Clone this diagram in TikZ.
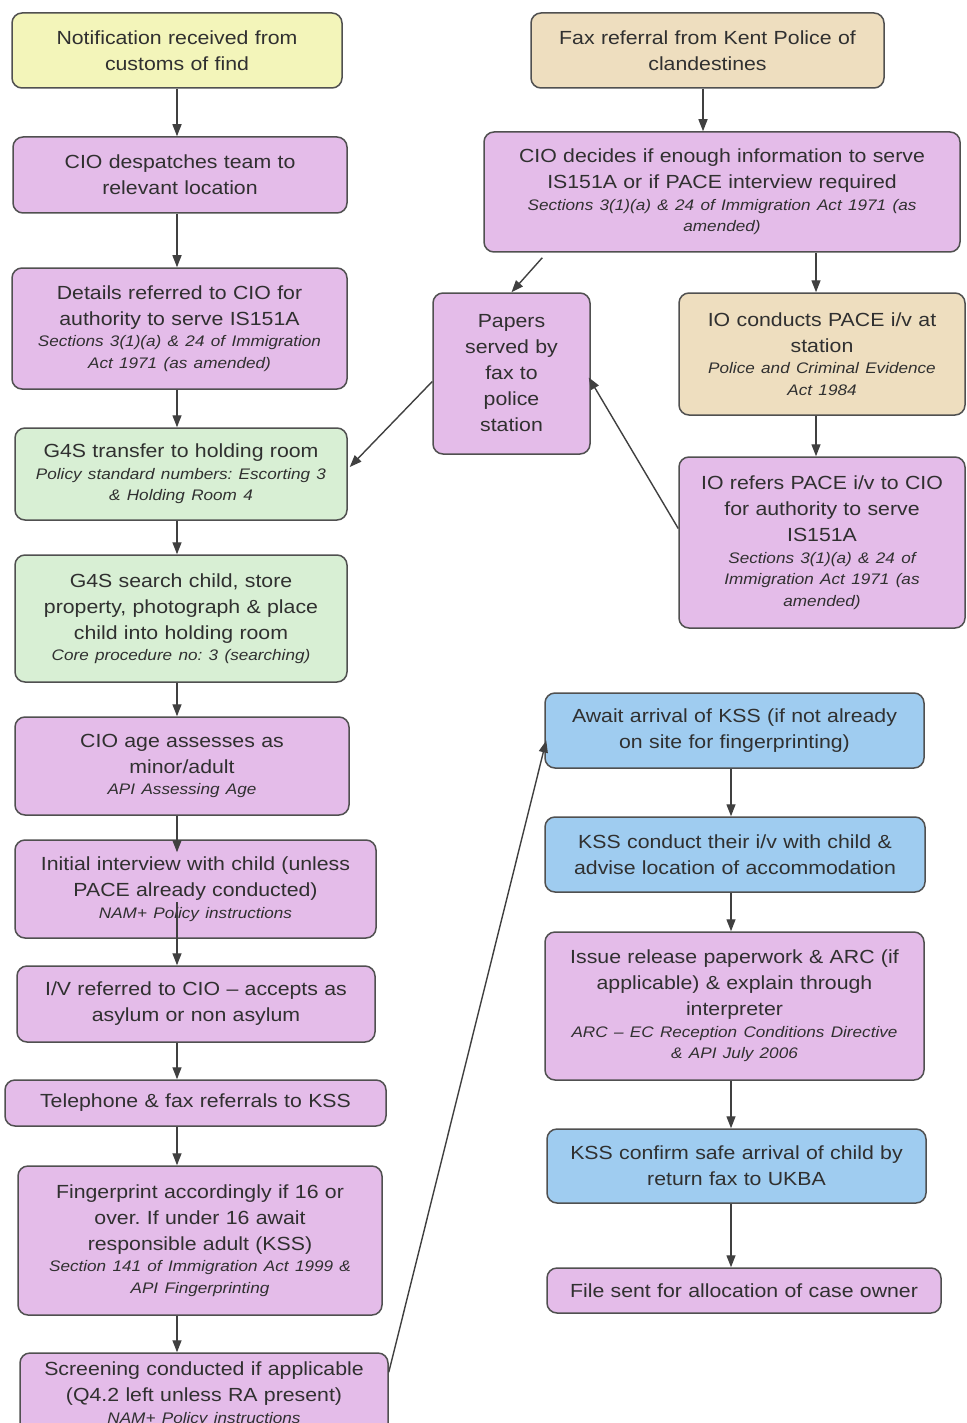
\documentclass[tikz,border=0pt]{standalone}
\usepackage{fontspec}
\setmainfont{Liberation Sans}[FakeStretch=1.12]
\usetikzlibrary{arrows.meta,calc}
\definecolor{pur}{HTML}{E4BCE9}
\definecolor{yel}{HTML}{F3F5BA}
\definecolor{tan}{HTML}{EEDEBF}
\definecolor{grn}{HTML}{D8EFD4}
\definecolor{blu}{HTML}{9FCCF0}
\definecolor{bdr}{HTML}{505050}
\definecolor{txt}{HTML}{303030}
\definecolor{arrc}{HTML}{404040}
\newcommand\mainsz{\fontsize{19}{26}\selectfont}
\newcommand\subsz{\fontsize{15.3}{21.5}\selectfont\itshape}
\frenchspacing
\begin{document}
\begin{tikzpicture}[x=1pt,y=-1pt,
  box/.style={draw=bdr, line width=1.5pt, rounded corners=10pt, inner sep=0pt, align=center, text=txt, font=\mainsz\frenchspacing},
  arr/.style={draw=arrc, line width=1.4pt, -{Triangle[length=12pt,width=9pt]}}]
\useasboundingbox (0,0) rectangle (966,1423);
\clip (0,0) rectangle (966,1423);
\fill[white] (0,0) rectangle (966,1423);
% left column
\node[box, fill=yel, minimum width=330pt, minimum height=75pt, text width=320pt] (n1) at (177,50.5) {Notification received from\\customs of find};
\node[box, fill=pur, minimum width=334pt, minimum height=76pt, text width=324pt] (n2) at (180,175) {CIO despatches team to\\relevant location};
\node[box, fill=pur, minimum width=335pt, minimum height=121pt, text width=325pt] (n3) at (179.5,328.5) {Details referred to CIO for\\authority to serve IS151A\par{\subsz Sections 3(1)(a) \& 24 of Immigration\\Act 1971 (as amended)\par}};
\node[box, fill=grn, minimum width=332pt, minimum height=92pt, text width=322pt] (n4) at (181,474) {G4S transfer to holding room\par{\subsz Policy standard numbers: Escorting 3\\\& Holding Room 4\par}};
\node[box, fill=grn, minimum width=332pt, minimum height=127pt, text width=322pt] (n5) at (181,618.5) {G4S search child, store\\property, photograph \& place\\child into holding room\par{\subsz Core procedure no: 3 (searching)\par}};
\node[box, fill=pur, minimum width=334pt, minimum height=98pt, text width=324pt] (n6) at (182,766) {CIO age assesses as\\minor/adult\par{\subsz API Assessing Age\par}};
\node[box, fill=pur, minimum width=361pt, minimum height=98pt, text width=351pt] (n7) at (195.5,889) {Initial interview with child (unless\\PACE already conducted)\par{\subsz NAM+ Policy instructions\par}};
\node[box, fill=pur, minimum width=358pt, minimum height=76pt, text width=348pt] (n8) at (196,1004) {I/V referred to CIO – accepts as\\asylum or non asylum};
\node[box, fill=pur, minimum width=381pt, minimum height=46pt, text width=371pt] (n9) at (195.5,1103) {Telephone \& fax referrals to KSS};
\node[box, fill=pur, minimum width=364pt, minimum height=149pt, text width=354pt] (n10) at (200,1240.5) {Fingerprint accordingly if 16 or\\over. If under 16 await\\responsible adult (KSS)\par{\subsz Section 141 of Immigration Act 1999 \&\\API Fingerprinting\par}};
\node[box, fill=pur, minimum width=368pt, minimum height=82pt, text width=358pt] (n11) at (204,1394) {Screening conducted if applicable\\(Q4.2 left unless RA present)\par{\subsz NAM+ Policy instructions\par}};
% middle
\node[box, fill=pur, minimum width=157pt, minimum height=161pt, text width=147pt] (papers) at (511.5,373.5) {Papers\\served by\\fax to\\police\\station};
% right column
\node[box, fill=tan, minimum width=353pt, minimum height=75pt, text width=343pt] (r1) at (707.5,50.5) {Fax referral from Kent Police of\\clandestines};
\node[box, fill=pur, minimum width=476pt, minimum height=120pt, text width=466pt] (r2) at (722,192) {CIO decides if enough information to serve\\IS151A or if PACE interview required\par{\subsz Sections 3(1)(a) \& 24 of Immigration Act 1971 (as\\amended)\par}};
\node[box, fill=tan, minimum width=286pt, minimum height=122pt, text width=276pt] (r3) at (822,354) {IO conducts PACE i/v at\\station\par{\subsz Police and Criminal Evidence\\Act 1984\par}};
\node[box, fill=pur, minimum width=286pt, minimum height=171pt, text width=276pt] (r4) at (822,542.5) {IO refers PACE i/v to CIO\\for authority to serve\\IS151A\par{\subsz Sections 3(1)(a) \& 24 of\\Immigration Act 1971 (as\\amended)\par}};
\node[box, fill=blu, minimum width=379pt, minimum height=75pt, text width=369pt] (r5) at (734.5,730.5) {Await arrival of KSS (if not already\\on site for fingerprinting)};
\node[box, fill=blu, minimum width=380pt, minimum height=75pt, text width=370pt] (r6) at (735,854.5) {KSS conduct their i/v with child \&\\advise location of accommodation};
\node[box, fill=pur, minimum width=379pt, minimum height=148pt, text width=369pt] (r7) at (734.5,1006) {Issue release paperwork \& ARC (if\\applicable) \& explain through\\interpreter\par{\subsz ARC – EC Reception Conditions Directive\\\& API July 2006\par}};
\node[box, fill=blu, minimum width=379pt, minimum height=74pt, text width=369pt] (r8) at (736.5,1166) {KSS confirm safe arrival of child by\\return fax to UKBA};
\node[box, fill=pur, minimum width=394pt, minimum height=45pt, text width=384pt] (r9) at (744,1290.5) {File sent for allocation of case owner};
% connector columns
\coordinate (lx) at (177,0);
\coordinate (fx) at (703,0);
\coordinate (px) at (816,0);
\coordinate (rx) at (731,0);
% left arrows
\draw[arr] (n1.south -| lx) -- (n2.north -| lx);
\draw[arr] (n2.south -| lx) -- (n3.north -| lx);
\draw[arr] (n3.south -| lx) -- (n4.north -| lx);
\draw[arr] (n4.south -| lx) -- (n5.north -| lx);
\draw[arr] (n5.south -| lx) -- (n6.north -| lx);
\draw[arr] (n6.south -| lx) -- ($(n7.north -| lx)+(0,13)$);
\draw[arr] ($(n7.north -| lx)+(0,63)$) -- (n8.north -| lx);
\draw[arr] (n8.south -| lx) -- (n9.north -| lx);
\draw[arr] (n9.south -| lx) -- (n10.north -| lx);
\draw[arr] (n10.south -| lx) -- (n11.north -| lx);
% right arrows
\draw[arr] (r1.south -| fx) -- (r2.north -| fx);
\draw[arr] (r2.south -| px) -- (r3.north -| px);
\draw[arr] (r3.south -| px) -- (r4.north -| px);
\draw[arr] (r5.south -| rx) -- (r6.north -| rx);
\draw[arr] (r6.south -| rx) -- (r7.north -| rx);
\draw[arr] (r7.south -| rx) -- (r8.north -| rx);
\draw[arr] (r8.south -| rx) -- (r9.north -| rx);
% diagonal arrows
\draw[arr] ($(r2.south west)+(59,5)$) -- (papers.north);
\draw[arr] ($(r4.west)+(0,-14)$) -- ($(papers.east)+(-2,4)$);
\draw[arr] ($(papers.west)+(0,8)$) -- ($(n4.east)+(2,-7)$);
\draw[arr] ($(n11.north east)+(0,20)$) -- ($(r5.west)+(2,10)$);
\end{tikzpicture}
\end{document}
